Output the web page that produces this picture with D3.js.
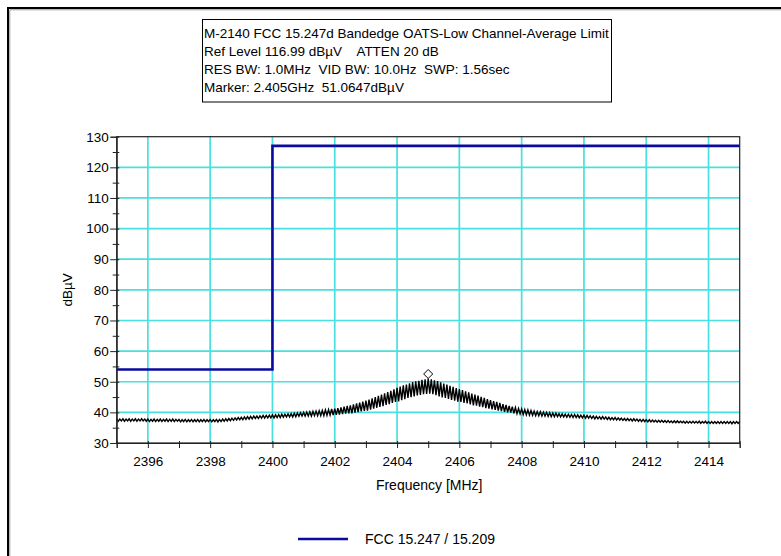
<!DOCTYPE html>
<html>
<head>
<meta charset="utf-8">
<script src="https://cdn.jsdelivr.net/npm/d3@7/dist/d3.min.js"></script>
<style>
  html, body { margin: 0; padding: 0; background: #fff; }
  svg { display: block; font-family: "Liberation Sans", Arial, sans-serif; }
</style>
</head>
<body>
<svg id="chart" width="781" height="556"></svg>
<script>
// Header lines of the analyzer plot
const headerLines = [
  "M-2140 FCC 15.247d Bandedge OATS-Low Channel-Average Limit",
  "Ref Level 116.99 dB\u00b5V    ATTEN 20 dB",
  "RES BW: 1.0MHz  VID BW: 10.0Hz  SWP: 1.56sec",
  "Marker: 2.405GHz  51.0647dB\u00b5V"
];

// Axis ranges and tick labels
const freqDomain = [2395, 2415];
const levelDomain = [30, 130];
const freqLabels = [2396, 2398, 2400, 2402, 2404, 2406, 2408, 2410, 2412, 2414];
const levelLabels = [30, 40, 50, 60, 70, 80, 90, 100, 110, 120, 130];

// FCC 15.247 / 15.209 limit: restricted band below 2400 MHz, in-band above
const limitFreqs = [2395, 2400, 2400, 2415];
const limitLevels = [54, 54, 127, 127];
const limitName = "FCC 15.247 / 15.209";

// Marker
const markerFreq = 2405;
const markerLevel = 51.0647;

// Measured trace, 401 sweep points from 2395 to 2415 MHz (dBuV)
const sweepStart = 2395, sweepStop = 2415;
const traceLevels = [
  37.9,37.1,37.8,37.2,37.9,37.1,37.8,37.2,37.9,37.1,
  37.8,37.2,37.9,37.1,37.8,37.2,37.9,37.2,37.8,37.1,
  37.8,37.0,37.7,37.1,37.8,37.0,37.7,37.1,37.8,37.0,
  37.7,37.1,37.8,37.0,37.7,37.1,37.8,37.0,37.7,37.1,
  37.7,36.9,37.6,37.0,37.7,36.9,37.6,37.0,37.7,36.9,
  37.6,37.0,37.7,36.9,37.6,37.0,37.7,36.9,37.6,37.0,
  37.7,36.9,37.6,37.0,37.7,36.9,37.7,37.0,37.8,37.1,
  37.9,37.2,38.0,37.3,38.1,37.4,38.2,37.5,38.3,37.6,
  38.4,37.6,38.5,37.7,38.6,37.8,38.7,37.9,38.8,38.0,
  38.8,38.0,38.9,38.1,39.0,38.1,39.0,38.2,39.1,38.2,
  39.2,38.2,39.2,38.3,39.3,38.3,39.4,38.4,39.4,38.5,
  39.5,38.5,39.6,38.5,39.7,38.6,39.8,38.7,39.9,38.8,
  40.0,38.8,40.1,38.8,40.2,38.8,40.3,38.9,40.4,38.9,
  40.5,38.9,40.6,38.9,40.8,39.0,40.9,39.1,41.1,39.1,
  41.2,39.2,41.4,39.3,41.6,39.4,41.9,39.6,42.1,39.7,
  42.3,39.7,42.6,39.9,42.9,40.1,43.2,40.3,43.5,40.5,
  43.8,40.6,44.2,40.9,44.6,41.2,45.0,41.5,45.4,41.8,
  45.8,42.0,46.2,42.4,46.6,42.7,47.0,43.1,47.5,43.4,
  48.0,43.6,48.4,44.0,48.8,44.3,49.1,44.7,49.5,45.0,
  49.9,45.2,50.1,45.5,50.3,45.7,50.6,45.9,50.8,46.0,
  51.06,46.1,50.8,45.9,50.5,45.6,50.2,45.2,49.8,44.9,
  49.4,44.7,49.1,44.4,48.7,44.1,48.3,43.8,47.9,43.5,
  47.6,43.4,47.3,43.1,46.9,42.9,46.5,42.6,46.1,42.3,
  45.8,42.2,45.5,41.9,45.1,41.7,44.7,41.4,44.3,41.2,
  44.0,41.0,43.7,40.8,43.4,40.6,43.1,40.4,42.7,40.2,
  42.4,40.0,42.1,39.9,41.9,39.7,41.6,39.6,41.3,39.5,
  41.1,39.3,40.9,39.2,40.8,39.1,40.6,39.0,40.4,38.9,
  40.3,38.9,40.2,38.8,40.1,38.8,40.0,38.7,39.9,38.6,
  39.8,38.6,39.7,38.6,39.6,38.5,39.5,38.5,39.4,38.4,
  39.4,38.4,39.3,38.3,39.3,38.3,39.2,38.2,39.1,38.2,
  39.1,38.1,39.0,38.1,38.9,38.0,38.8,37.9,38.7,37.9,
  38.6,37.8,38.6,37.8,38.5,37.7,38.4,37.6,38.3,37.6,
  38.3,37.5,38.2,37.5,38.1,37.4,38.0,37.3,38.0,37.3,
  37.9,37.2,37.9,37.2,37.8,37.1,37.7,37.0,37.7,37.0,
  37.6,36.9,37.6,36.9,37.5,36.9,37.4,36.8,37.4,36.8,
  37.4,36.8,37.3,36.7,37.3,36.7,37.2,36.6,37.2,36.6,
  37.2,36.6,37.1,36.6,37.1,36.5,37.1,36.5,37.0,36.5,
  37.1,36.5,37.0,36.5,37.1,36.4,37.0,36.5,37.1,36.4,
  37.0,36.4,37.0,36.4,37.0,36.4,37.0,36.4,37.0,36.4,
  37.0,36.4,37.0,36.4,37.0,36.3,37.0,36.4,37.0,36.4,
  37.0
];

const svg = d3.select("#chart");
const FONT = 13.5;

// Window frame (sunken border on the left and top)
svg.append("path")
  .attr("d", "M8,560 V8 H790")
  .attr("fill", "none").attr("stroke", "#000").attr("stroke-width", 2);
svg.append("path")
  .attr("d", "M9.8,560 V9.8 H790")
  .attr("fill", "none").attr("stroke", "#9a9a9a").attr("stroke-width", 1);

// Header box
const box = { x: 202.5, y: 19.5, w: 409, h: 82.5 };
svg.append("rect")
  .attr("x", box.x).attr("y", box.y).attr("width", box.w).attr("height", box.h)
  .attr("fill", "#fff").attr("stroke", "#000").attr("stroke-width", 1);
svg.append("g").selectAll("text").data(headerLines).join("text")
  .attr("x", box.x + 1.5)
  .attr("y", (d, i) => 38 + i * 18)
  .attr("font-size", FONT)
  .attr("fill", "#000")
  .style("white-space", "pre")
  .attr("xml:space", "preserve")
  .text(d => d);

// Plot area
const plot = { left: 116.7, right: 739.7, top: 136.7, bottom: 443 };
const x = d3.scaleLinear().domain(freqDomain).range([plot.left, plot.right]);
const y = d3.scaleLinear().domain(levelDomain).range([plot.bottom, plot.top]);

// Grid
const grid = svg.append("g").attr("stroke", "#48e0e0").attr("stroke-width", 1.7);
grid.selectAll("line.v").data(freqLabels).join("line")
  .attr("class", "v")
  .attr("x1", d => x(d)).attr("x2", d => x(d))
  .attr("y1", plot.top).attr("y2", plot.bottom);
grid.selectAll("line.h").data(levelLabels.filter(v => v > levelDomain[0] && v < levelDomain[1])).join("line")
  .attr("class", "h")
  .attr("x1", plot.left).attr("x2", plot.right)
  .attr("y1", d => y(d)).attr("y2", d => y(d));

// Limit line
const limitPts = limitFreqs.map((f, i) => [f, limitLevels[i]]);
const lineGen = d3.line().x(d => x(d[0])).y(d => y(d[1]));
svg.append("path")
  .datum(limitPts)
  .attr("d", lineGen)
  .attr("fill", "none")
  .attr("stroke", "#0a0aa0")
  .attr("stroke-width", 2.6);

// Trace
const step = (sweepStop - sweepStart) / (traceLevels.length - 1);
const tracePts = traceLevels.map((v, i) => [sweepStart + i * step, v]);
svg.append("path")
  .datum(tracePts)
  .attr("d", lineGen)
  .attr("fill", "none")
  .attr("stroke", "#000")
  .attr("stroke-width", 1.4);

// Marker diamond sitting on the marked point
const mx = x(markerFreq), my = y(markerLevel);
svg.append("path")
  .attr("d", `M${mx},${my} l4.5,-4.5 l-4.5,-4.5 l-4.5,4.5 Z`)
  .attr("fill", "#fff").attr("stroke", "#000").attr("stroke-width", 1);

// Frame around plot
svg.append("rect")
  .attr("x", plot.left).attr("y", plot.top)
  .attr("width", plot.right - plot.left).attr("height", plot.bottom - plot.top)
  .attr("fill", "none").attr("stroke", "#222").attr("stroke-width", 1.2);

// X axis
const xTicks = d3.range(freqDomain[0], freqDomain[1] + 1, 1);
const xAxis = d3.axisBottom(x)
  .tickValues(xTicks)
  .tickSize(5)
  .tickPadding(8)
  .tickFormat(d => freqLabels.includes(d) ? String(d) : "");
const gx = svg.append("g").attr("transform", `translate(0,${plot.bottom})`).call(xAxis);
gx.select(".domain").attr("stroke", "#222");
gx.selectAll(".tick line").attr("y1", -2).attr("y2", 5).attr("stroke", "#222");
gx.selectAll(".tick text").attr("font-size", FONT).attr("fill", "#000")
  .attr("font-family", "Liberation Sans, Arial, sans-serif");

// Y axis
const yTicks = d3.range(levelDomain[0], levelDomain[1] + 1, 5);
const yAxis = d3.axisLeft(y)
  .tickValues(yTicks)
  .tickSize(6)
  .tickPadding(2)
  .tickFormat(d => levelLabels.includes(d) ? String(d) : "");
const gy = svg.append("g").attr("transform", `translate(${plot.left},0)`).call(yAxis);
gy.select(".domain").attr("stroke", "#222");
gy.selectAll(".tick line")
  .attr("x1", 2.6)
  .attr("x2", d => levelLabels.includes(d) ? -6.5 : -4)
  .attr("stroke", "#222");
gy.selectAll(".tick text").attr("font-size", FONT).attr("fill", "#000")
  .attr("font-family", "Liberation Sans, Arial, sans-serif");

// Axis titles
svg.append("text")
  .attr("x", (plot.left + plot.right) / 2 + 1).attr("y", 490)
  .attr("text-anchor", "middle").attr("font-size", 14)
  .text("Frequency [MHz]");
svg.append("text")
  .attr("transform", `translate(72,${(plot.top + plot.bottom) / 2}) rotate(-90)`)
  .attr("text-anchor", "middle").attr("font-size", FONT)
  .text("dB\u00b5V");

// Legend
const legend = svg.append("g").attr("transform", "translate(298,539)");
legend.append("line").attr("x1", 0).attr("x2", 50).attr("y1", 0).attr("y2", 0)
  .attr("stroke", "#0a0aa0").attr("stroke-width", 2.6);
legend.append("text").attr("x", 67).attr("y", 5).attr("font-size", 14)
  .text(limitName);
</script>
</body>
</html>
